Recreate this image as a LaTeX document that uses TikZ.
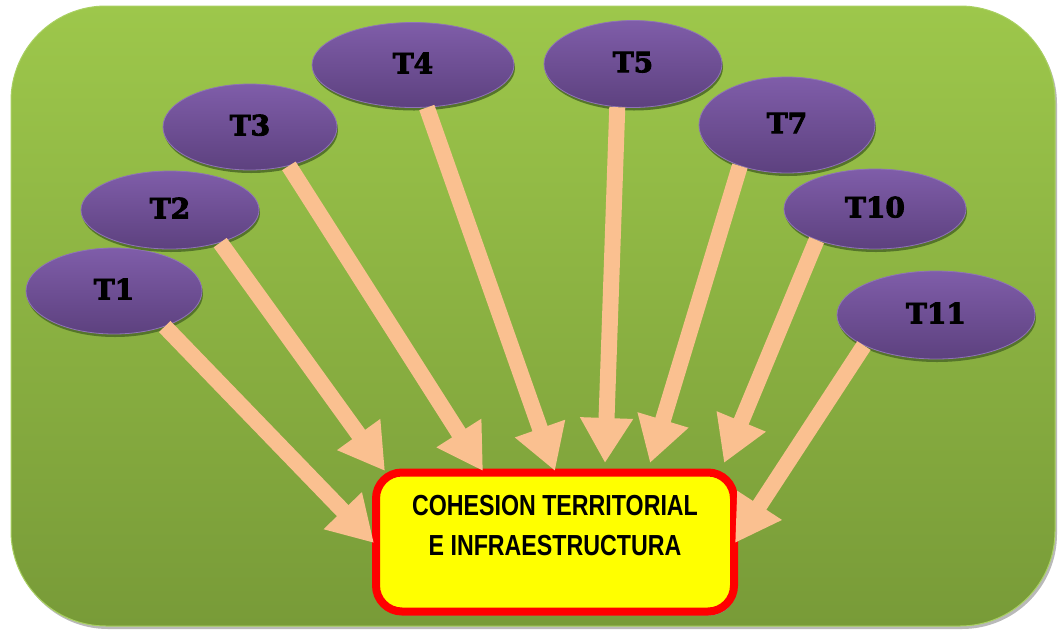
\documentclass[tikz,border=0pt]{standalone}
\usepackage{fontspec}
\setmainfont{Liberation Sans}
\newfontfamily\tfont{DejaVu Serif}
\usetikzlibrary{shapes.geometric,arrows.meta,calc,shadows}
\definecolor{bgtop}{HTML}{9DC74B}
\definecolor{bgbot}{HTML}{789B38}
\definecolor{bgedge}{HTML}{A9D062}
\definecolor{ptop}{HTML}{7F5DA9}
\definecolor{pbot}{HTML}{5D417F}
\definecolor{pedge}{HTML}{8F74B6}
\definecolor{arrowc}{HTML}{FAC090}
\definecolor{shadowg}{HTML}{55742A}
\definecolor{boxred}{HTML}{FF0000}
\definecolor{boxyel}{HTML}{FFFF00}
\newcommand{\fat}[1]{\special{pdf:literal direct 2 Tr 0.9 w}#1\special{pdf:literal direct 0 Tr 0 w}}
\begin{document}
\begin{tikzpicture}[x=1pt,y=-1pt,
  topic/.style={ellipse, inner sep=0pt, top color=ptop, bottom color=pbot,
    draw=pedge, line width=0.8pt,
    font=\tfont\bfseries\fontsize{28}{28}\selectfont,
    drop shadow={shadow xshift=1pt, shadow yshift=-3pt, fill=shadowg, opacity=1}},
  link/.style={draw=arrowc, line width=16pt, -{Triangle[width=50pt,length=45pt]}},
  mainbox/.style={rectangle, rounded corners=26pt, draw=boxred, line width=8pt,
    fill=boxyel, minimum width=358pt, minimum height=139pt,
    drop shadow={shadow xshift=2pt, shadow yshift=-4pt, fill=black!45, opacity=0.8}}]
\clip (0,0) rectangle (1060,630);
% background
\fill[gray!55, rounded corners=95pt] (13,9) rectangle (1057,629);
\path[top color=bgtop, bottom color=bgbot, draw=bgedge, line width=1pt, rounded corners=95pt]
  (11,6) rectangle (1055,626);
% topics
\node[topic, minimum width=176pt, minimum height=86pt] (T1) at (114,291) {\raisebox{4pt}{\fat{T1}}};
\node[topic, minimum width=178pt, minimum height=78pt] (T2) at (170,210) {\raisebox{4pt}{\fat{T2}}};
\node[topic, minimum width=174pt, minimum height=86pt] (T3) at (250,127) {\raisebox{4pt}{\fat{T3}}};
\node[topic, minimum width=202pt, minimum height=85pt] (T4) at (413,65) {\raisebox{4pt}{\fat{T4}}};
\node[topic, minimum width=178pt, minimum height=87pt] (T5) at (633,64) {\raisebox{4pt}{\fat{T5}}};
\node[topic, minimum width=176pt, minimum height=96pt] (T7) at (787,125) {\raisebox{4pt}{\fat{T7}}};
\node[topic, minimum width=182pt, minimum height=80pt] (T10) at (875,209) {\raisebox{4pt}{\fat{T10}}};
\node[topic, minimum width=198pt, minimum height=88pt] (T11) at (936,315) {\raisebox{4pt}{\fat{T11}}};
% main box
\node[mainbox] (box) at (555,542) {};
\node[font=\bfseries\fontsize{29}{40}\selectfont, align=center, anchor=north] (boxtext) at (555,492)
  {\scalebox{0.8}[1]{COHESION TERRITORIAL}\\\scalebox{0.8}[1]{E INFRAESTRUCTURA}};
% arrow tips
\coordinate (e1) at (374,543);
\coordinate (e2) at (385,471);
\coordinate (e3) at (483,471);
\coordinate (e4) at (555,471);
\coordinate (e5) at (605,463);
\coordinate (e7) at (650,463);
\coordinate (e10) at (724,463);
\coordinate (e11) at (735,543);
% arrows
\draw[link] (T1.-35) -- (e1);
\draw[link] (T2.-33) -- (e2);
\draw[link] (T3.-45) -- (e3);
\draw[link] (T4.-72) -- (e4);
\draw[link] (T5.-110) -- (e5);
\draw[link] (T7.-139) -- (e7);
\draw[link] (T10.-152) -- (e10);
\draw[link] (T11.-157) -- (e11);
\end{tikzpicture}
\end{document}
